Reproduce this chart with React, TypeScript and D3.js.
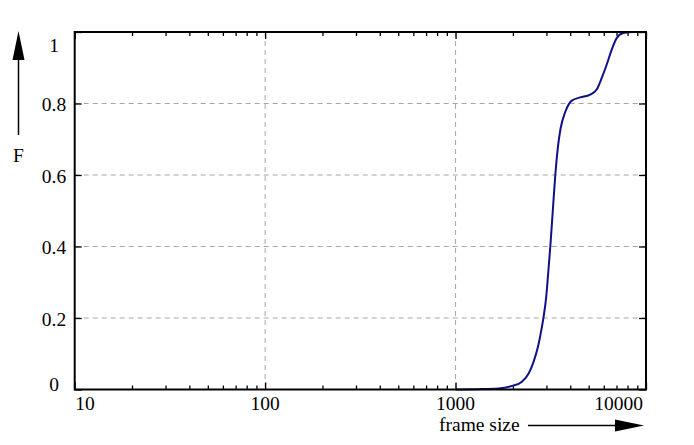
import React, { useEffect, useRef } from 'react'
import * as d3 from 'd3'

// cumulative distribution of frame sizes
const frameSizes = [
  1000, 1300, 1685, 1980, 2230, 2420, 2570, 2710, 2820, 2900, 2980, 3070, 3144, 3240, 3340, 3450,
  3560, 3770, 4080, 4510, 5090, 5510, 5850, 6220, 6600, 7015, 7600, 8580, 10000,
]
const cdfValues = [
  0, 0.001, 0.003, 0.01, 0.022, 0.045, 0.078, 0.12, 0.166, 0.204, 0.25, 0.33, 0.4, 0.5, 0.6, 0.68,
  0.73, 0.777, 0.808, 0.817, 0.825, 0.839, 0.871, 0.909, 0.95, 0.983, 0.997, 1, 1,
]

const xTicks = [10, 100, 1000, 10000]
const xTickLabels = ['10', '100', '1000', '10000']
const yTicks = [0, 0.2, 0.4, 0.6, 0.8, 1]
const yTickLabels = ['0', '0.2', '0.4', '0.6', '0.8', '1']

const width = 694
const height = 445
const left = 74.7
const right = 646
const top = 32
const bottom = 389.5
const font = "'Liberation Serif', 'DejaVu Serif', serif"

const App = () => {
  const svgRef = useRef<SVGSVGElement>(null)

  useEffect(() => {
    const svg = d3.select(svgRef.current)
    svg.selectAll('*').remove()

    const x = d3.scaleLog().domain([10, 10000]).range([left, right])
    const y = d3.scaleLinear().domain([0, 1]).range([bottom, top])

    const minor = x.ticks().filter(t => !xTicks.includes(t))

    // grid
    const grid = svg.append('g').attr('stroke', '#a6a6a6').attr('stroke-width', 1).attr('stroke-dasharray', '5,4')
    xTicks
      .filter(t => t > 10 && t < 10000)
      .forEach(t => {
        grid.append('line').attr('x1', x(t)).attr('x2', x(t)).attr('y1', top).attr('y2', bottom)
      })
    yTicks
      .filter(t => t > 0 && t < 1)
      .forEach(t => {
        grid.append('line').attr('x1', left).attr('x2', right).attr('y1', y(t)).attr('y2', y(t))
      })

    // ticks (inside the frame)
    const tickAxis = (axis: d3.Axis<any>, tr: string) => {
      const g = svg.append('g').attr('transform', tr).call(axis)
      g.select('.domain').remove()
      g.selectAll('line').attr('stroke', '#000').attr('stroke-width', 1.3)
      g.selectAll('text').remove()
    }
    tickAxis(d3.axisBottom(x).tickValues(xTicks).tickSize(-7), `translate(0,${bottom})`)
    tickAxis(d3.axisBottom(x).tickValues(minor).tickSize(-4), `translate(0,${bottom})`)
    tickAxis(d3.axisTop(x).tickValues(xTicks).tickSize(-7), `translate(0,${top})`)
    tickAxis(d3.axisTop(x).tickValues(minor).tickSize(-4), `translate(0,${top})`)
    tickAxis(d3.axisLeft(y).tickValues(yTicks).tickSize(-7), `translate(${left},0)`)
    tickAxis(d3.axisRight(y).tickValues(yTicks).tickSize(-7), `translate(${right},0)`)

    // curve
    const line = d3
      .line<number>()
      .x((_, i) => x(frameSizes[i]))
      .y(d => y(d))
      .curve(d3.curveMonotoneX)
    svg
      .append('path')
      .datum(cdfValues)
      .attr('d', line)
      .attr('fill', 'none')
      .attr('stroke', '#101088')
      .attr('stroke-width', 2)

    // frame
    svg
      .append('rect')
      .attr('x', left)
      .attr('y', top)
      .attr('width', right - left)
      .attr('height', bottom - top)
      .attr('fill', 'none')
      .attr('stroke', '#000')
      .attr('stroke-width', 2)

    // tick labels
    const labels = svg.append('g').attr('font-family', font).attr('font-size', 19.5).attr('fill', '#000')
    xTicks.forEach((t, i) => {
      const first = i === 0
      const last = i === xTicks.length - 1
      labels
        .append('text')
        .attr('x', first ? x(t) + 0.5 : last ? x(t) - 3 : x(t))
        .attr('y', 410)
        .attr('text-anchor', first ? 'start' : last ? 'end' : 'middle')
        .text(xTickLabels[i])
    })
    yTicks.forEach((t, i) => {
      labels
        .append('text')
        .attr('x', 54)
        .attr('y', Math.max(51.5, Math.min(390.5, y(t) + 7.5)))
        .attr('text-anchor', 'middle')
        .text(yTickLabels[i])
    })

    // axis titles with arrows
    labels.append('text').attr('x', 439).attr('y', 431).text('frame size')
    labels.append('text').attr('x', 18.5).attr('y', 162).attr('text-anchor', 'middle').text('F')

    svg.append('line').attr('x1', 528).attr('x2', 620).attr('y1', 425.5).attr('y2', 425.5).attr('stroke', '#000').attr('stroke-width', 1.5)
    svg.append('path').attr('d', 'M615,419.5 L644,425.5 L615,431.5 Z').attr('fill', '#000')
    svg.append('line').attr('x1', 18.5).attr('x2', 18.5).attr('y1', 135).attr('y2', 55).attr('stroke', '#000').attr('stroke-width', 1.5)
    svg.append('path').attr('d', 'M12.5,60 L18.5,31 L24.5,60 Z').attr('fill', '#000')
  }, [])

  return (
    <svg
      ref={svgRef}
      width={width}
      height={height}
      style={{ position: 'absolute', left: 0, top: 0, background: '#fff' }}
    />
  )
}

export default App
